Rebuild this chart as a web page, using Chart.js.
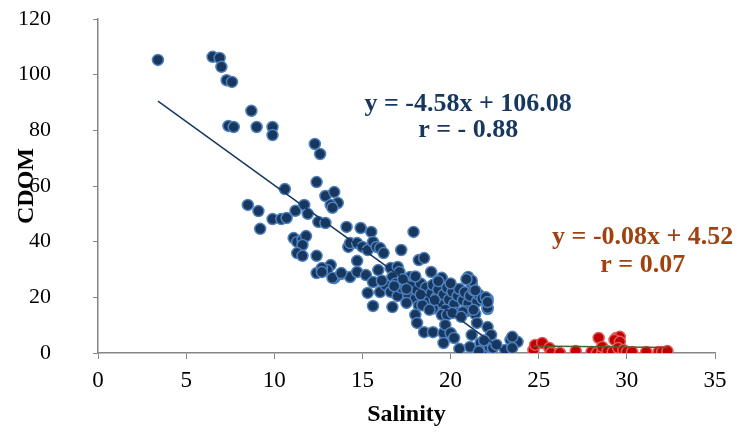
<!DOCTYPE html>
<html lang="en">
<head>
    <meta charset="UTF-8">
    <title>CDOM vs Salinity</title>
    <script src="https://cdn.jsdelivr.net/npm/chart.js"></script>
    <style>
     body{
         margin: 0;
         background: #fff;
     }
    </style>
</head>
<body>
    <canvas id="chart-cdom" width="737" height="437"></canvas>

<script>
    // salinity / CDOM
    const blueX = [3.4, 6.5, 6.9, 7.0, 7.3, 7.6, 8.7, 7.4, 7.7, 9.0, 9.9, 9.9, 10.6,
        12.3, 12.6, 12.4, 8.5, 9.1, 9.2, 9.9, 10.4, 10.7, 11.2, 11.7, 11.9, 12.5, 12.9, 12.9, 13.4, 13.6, 13.2, 13.3, 14.1,
        11.1, 11.3, 11.6, 11.8, 11.6, 11.3, 11.6, 12.4, 12.4, 12.7, 13.2, 13.0, 13.4, 13.8, 14.2, 14.3,
        14.9, 15.5, 14.3, 14.7, 15.0, 15.3, 15.6, 15.8, 16.0, 16.2, 17.9, 17.2, 14.7, 12.7, 12.7, 13.3, 13.8, 14.7, 15.2, 15.6,
        15.9, 16.6, 17.0, 17.1, 17.7, 16.7, 15.3, 16.0, 16.5, 16.8, 17.4, 17.9, 18.2, 18.5,
        18.9, 19.5, 21.0, 21.2, 22.1, 22.1, 15.6, 16.7,
        16.3, 16.6, 16.9, 17.0, 17.2, 17.4, 17.6, 17.8, 18.0, 18.1, 18.3, 18.4, 18.6, 18.7, 18.9, 19.0, 19.2, 19.3, 19.5, 19.6,
        19.8, 19.9, 20.1, 20.2, 20.4, 20.5, 20.7, 20.8, 21.0, 21.1, 21.3, 21.5, 21.6, 21.8, 17.5, 18.2, 19.0, 19.7, 20.3, 20.9,
        21.4, 17.3, 18.0, 19.3, 20.0, 21.2, 21.4, 22.0, 20.9,
        18.0, 18.1, 18.4, 18.8, 19.5, 19.8, 20.1, 20.7, 21.3, 22.1, 22.1,
        18.5, 19.0, 19.6, 19.7, 20.0, 20.2, 19.6, 21.2, 21.5, 22.1,
        21.1, 21.7, 21.8, 22.2, 22.3, 22.4, 23.1, 23.4, 23.8, 23.5, 23.5,
        16.1, 16.8, 17.5, 18.3, 19.1, 20.6, 21.9, 22.6, 20.5, 21.6];
    const blueY = [105.3, 106.4, 106.0, 102.8, 98.0, 97.4, 87.0, 81.6, 81.2, 81.2, 81.2, 78.3, 58.9,
        75.1, 71.5, 61.4, 53.2, 51.0, 44.6, 48.1, 48.1, 48.5, 51.1, 53.2, 50.0, 47.1, 46.7, 56.4, 57.8, 53.9, 53.2, 52.2, 45.3,
        41.3, 39.9, 40.6, 42.0, 38.8, 35.9, 34.9, 34.9, 28.7, 30.2, 31.6, 29.8, 26.9, 28.4, 38.1, 27.3,
        44.9, 43.5, 39.5, 39.5, 38.1, 37.0, 39.9, 38.1, 37.7, 35.9, 43.5, 37.0, 33.1, 30.5, 29.1, 27.0, 28.7, 29.1, 28.0, 25.5,
        29.8, 30.5, 30.9, 29.1, 27.3, 27.3, 21.6, 21.9, 23.4, 21.6, 22.6, 22.6, 33.4, 34.1,
        29.1, 27.0, 27.3, 24.8, 19.4, 15.8, 16.9, 16.5,
        24.5, 22.0, 25.0, 20.5, 23.5, 25.5, 21.0, 24.0, 19.5, 22.5, 25.0, 20.8, 23.5, 18.5, 21.5, 24.5, 20.0, 22.8, 18.0, 21.0,
        23.5, 19.2, 22.0, 17.5, 20.5, 23.0, 19.0, 21.8, 17.8, 20.5, 22.5, 18.5, 21.0, 19.5, 18.0, 17.0, 16.0, 15.5, 14.5, 15.0,
        14.0, 26.5, 27.5, 25.8, 25.0, 26.0, 22.5, 20.0, 26.5,
        13.7, 10.8, 17.2, 15.5, 13.7, 13.7, 14.4, 14.7, 15.5, 16.2, 18.3,
        7.5, 7.5, 7.2, 10.1, 7.2, 5.4, 3.6, 6.5, 10.8, 9.3,
        2.2, 3.6, 1.1, 2.2, 6.5, 1.8, 1.1, 4.7, 4.0, 1.8, 5.8,
        26.0, 24.0, 23.0, 21.0, 19.0, 13.0, 4.5, 3.0, 1.5, 0.5];

    const redX = [24.7, 24.8, 25.2, 25.6, 25.7, 26.2, 27.1, 28.4, 28.0, 28.3, 28.6, 28.6, 28.9, 29.2,
        29.4, 29.6, 29.3, 29.6, 29.5, 29.8, 30.0, 30.3, 31.1, 31.8, 32.0, 32.3];
    const redY = [1.1, 2.9, 3.6, 1.8, 0.0, 0.0, 0.7, 5.4, 0.4, 0.0, 0.0, 2.2, 0.7, 0.4,
        5.4, 5.8, 4.7, 4.0, 1.8, 1.1, 0.4, 0.4, 0.4, 0.4, 0.4, 0.7];

    // trend lines: y = a*x + b over the data range
    const blueFit = {a: -4.58, b: 106.08, from: 3.4, to: 23.1};
    const redFit = {a: -0.08, b: 4.52, from: 24.7, to: 32.3};

    const xTicks = [0, 35, 5];   // min, max, step
    const yTicks = [0, 120, 20];

    const notes = [
        {text: 'y = -4.58x + 106.08', x: 21.0, y: 89.5, color: '#17375E'},
        {text: 'r = - 0.88', x: 21.0, y: 80.0, color: '#17375E'},
        {text: 'y = -0.08x + 4.52', x: 30.9, y: 41.5, color: '#A0420F'},
        {text: 'r = 0.07', x: 30.9, y: 31.5, color: '#A0420F'}
    ];

    function toPoints(xs, ys) {
        return xs.map((x, i) => ({x: x, y: ys[i]}));
    }

    function fitLine(f) {
        return [{x: f.from, y: f.a * f.from + f.b}, {x: f.to, y: f.a * f.to + f.b}];
    }

    const serif = "'Liberation Serif', 'Times New Roman', serif";
    const axisGrey = '#868686';

    const notePlugin = {
        id: 'notes',
        afterDatasetsDraw(chart) {
            const ctx = chart.ctx;
            ctx.save();
            ctx.font = 'bold 26px ' + serif;
            ctx.textAlign = 'center';
            ctx.textBaseline = 'middle';
            notes.forEach(n => {
                ctx.fillStyle = n.color;
                ctx.fillText(n.text, chart.scales.x.getPixelForValue(n.x), chart.scales.y.getPixelForValue(n.y));
            });
            ctx.restore();
        }
    };

    const ctx = document.getElementById('chart-cdom').getContext('2d');
    new Chart(ctx, {
        type: 'scatter',
        data: {
            datasets: [{
                label: 'fit1',
                type: 'line',
                data: fitLine(blueFit),
                borderColor: '#17375E',
                borderWidth: 1.5,
                pointRadius: 0,
                order: 1
            }, {
                label: 'fit2',
                type: 'line',
                data: fitLine(redFit),
                borderColor: '#4F6228',
                borderWidth: 1.5,
                pointRadius: 0,
                order: 1
            }, {
                label: 'low salinity',
                data: toPoints(blueX, blueY),
                backgroundColor: '#17375E',
                borderColor: '#4F81BD',
                borderWidth: 1.5,
                pointRadius: 5.5,
                order: 3
            }, {
                label: 'high salinity',
                data: toPoints(redX, redY),
                backgroundColor: '#C00000',
                borderColor: '#E05A5A',
                borderWidth: 1.5,
                pointRadius: 5.5,
                order: 2
            }]
        },
        options: {
            responsive: false,
            animation: false,
            layout: {padding: {left: 0, right: 22, top: 19, bottom: 0}},
            plugins: {legend: {display: false}, tooltip: {enabled: false}},
            scales: {
                x: {
                    type: 'linear',
                    min: xTicks[0], max: xTicks[1],
                    ticks: {stepSize: xTicks[2], color: '#000', padding: 8, font: {family: serif, size: 23}},
                    grid: {drawOnChartArea: false, color: axisGrey, tickLength: 6},
                    border: {color: axisGrey, width: 1.5},
                    title: {display: true, text: 'Salinity', color: '#000', padding: {top: 0, bottom: 8},
                        font: {family: serif, size: 24, weight: 'bold'}},
                    afterFit(s) { s.height = 84; }
                },
                y: {
                    min: yTicks[0], max: yTicks[1],
                    ticks: {stepSize: yTicks[2], color: '#000', padding: 42, font: {family: serif, size: 22}},
                    grid: {drawOnChartArea: false, color: axisGrey, tickLength: 5},
                    border: {color: axisGrey, width: 1.5},
                    title: {display: true, text: 'CDOM', color: '#000', padding: {top: 12, bottom: 0},
                        font: {family: serif, size: 24, weight: 'bold'}},
                    afterFit(s) {
                        s.width = 98;
                        s.paddingTop = 0;
                        s.paddingBottom = 0;
                    }
                }
            }
        },
        plugins: [notePlugin]
    });
</script>
</body>
</html>
